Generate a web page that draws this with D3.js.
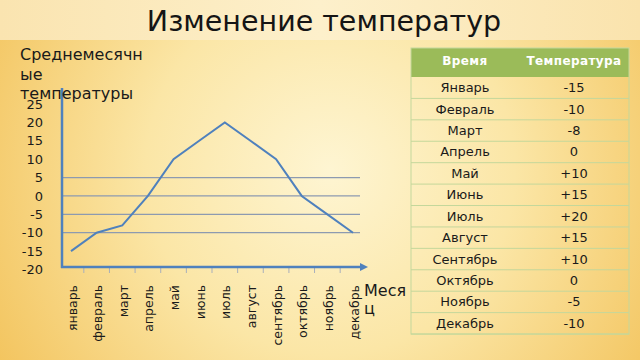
<!DOCTYPE html>
<html>
<head>
<meta charset="utf-8">
<script src="https://cdn.jsdelivr.net/npm/d3@7/dist/d3.min.js"></script>
<style>
  body { margin: 0; }
  svg { display: block; font-family: "DejaVu Sans", sans-serif; }
</style>
</head>
<body>
<div id="chart"></div>
<script>
var svgWidth = 640;
var svgHeight = 360;

// data
var months = ["январь", "февраль", "март", "апрель", "май", "июнь", "июль", "август", "сентябрь", "октябрь", "ноябрь", "декабрь"];
var temps = [-15, -10, -8, 0, 10, 15, 20, 15, 10, 0, -5, -10];
var tableMonths = ["Январь", "Февраль", "Март", "Апрель", "Май", "Июнь", "Июль", "Август", "Сентябрь", "Октябрь", "Ноябрь", "Декабрь"];
var tableTemps = ["-15", "-10", "-8", "0", "+10", "+15", "+20", "+15", "+10", "0", "-5", "-10"];
var yTicks = [25, 20, 15, 10, 5, 0, -5, -10, -15, -20];
var gridValues = [5, 0, -5, -10];

var svg = d3.select("#chart")
  .append("svg")
  .attr("width", svgWidth)
  .attr("height", svgHeight);

var defs = svg.append("defs");
var bg = defs.append("radialGradient")
  .attr("id", "bg")
  .attr("gradientUnits", "userSpaceOnUse")
  .attr("cx", 330).attr("cy", 170).attr("r", 410);
bg.append("stop").attr("offset", "0%").attr("stop-color", "#fef5d2");
bg.append("stop").attr("offset", "45%").attr("stop-color", "#fbe6a6");
bg.append("stop").attr("offset", "100%").attr("stop-color", "#f2c055");

var topBand = defs.append("linearGradient").attr("id", "topband");
topBand.append("stop").attr("offset", "0%").attr("stop-color", "#fae4b0");
topBand.append("stop").attr("offset", "50%").attr("stop-color", "#fdf0cb");
topBand.append("stop").attr("offset", "100%").attr("stop-color", "#fae3ad");

defs.append("marker")
  .attr("id", "arrow")
  .attr("viewBox", "0 0 10 10")
  .attr("refX", 5).attr("refY", 5)
  .attr("markerWidth", 3.2).attr("markerHeight", 3.2)
  .attr("orient", "auto")
  .append("path")
  .attr("d", "M0,0 L10,5 L0,10 Z")
  .attr("fill", "#4f81bd");

svg.append("rect").attr("width", svgWidth).attr("height", svgHeight).attr("fill", "url(#bg)");
svg.append("rect").attr("width", svgWidth).attr("height", 40).attr("fill", "url(#topband)");

// title
svg.append("text")
  .attr("x", 324).attr("y", 31)
  .attr("text-anchor", "middle")
  .style("font-size", "28.5px")
  .attr("fill", "#151515")
  .text("Изменение температур");

// scales
var xScale = d3.scalePoint()
  .domain(months)
  .range([71, 353]);

var yScale = d3.scaleLinear()
  .domain([-20, 25])
  .range([269.5, 104]);

var axisX = 62;
var baseY = yScale(-20) - 2.5;

// gridlines
svg.append("g")
  .selectAll("line")
  .data(gridValues)
  .enter()
  .append("line")
  .attr("x1", axisX).attr("x2", 360)
  .attr("y1", d => yScale(d)).attr("y2", d => yScale(d))
  .attr("stroke", "#8d9ab0")
  .attr("stroke-width", 1.3);

// y tick labels
svg.append("g")
  .selectAll("text")
  .data(yTicks)
  .enter()
  .append("text")
  .attr("x", 43)
  .attr("y", d => yScale(d))
  .attr("dy", "0.36em")
  .attr("text-anchor", "end")
  .style("font-size", "13px")
  .attr("fill", "#1a1a1a")
  .text(d => d);

// category ticks under x axis, between months
var step = xScale.step();
svg.append("g")
  .selectAll("line")
  .data(months.slice(1))
  .enter()
  .append("line")
  .attr("x1", d => xScale(d) - step / 2)
  .attr("x2", d => xScale(d) - step / 2)
  .attr("y1", baseY).attr("y2", baseY + 6)
  .attr("stroke", "#a9afbb")
  .attr("stroke-width", 1);

// data line
var line = d3.line()
  .x((d, i) => xScale(months[i]))
  .y(d => yScale(d));

svg.append("path")
  .datum(temps)
  .attr("d", line)
  .attr("fill", "none")
  .attr("stroke", "#4f81bd")
  .attr("stroke-width", 2);

// axes
svg.append("line")
  .attr("x1", axisX).attr("x2", axisX)
  .attr("y1", baseY + 1).attr("y2", 88)
  .attr("stroke", "#4f81bd")
  .attr("stroke-width", 2.5);

svg.append("line")
  .attr("x1", axisX - 1).attr("x2", 364)
  .attr("y1", baseY).attr("y2", baseY)
  .attr("stroke", "#4f81bd")
  .attr("stroke-width", 2.5)
  .attr("marker-end", "url(#arrow)");

// month labels
svg.append("g")
  .selectAll("text")
  .data(months)
  .enter()
  .append("text")
  .attr("transform", d => `translate(${xScale(d) + 1}, 285) rotate(-90)`)
  .attr("dy", "0.36em")
  .attr("text-anchor", "end")
  .style("font-size", "12.5px")
  .attr("fill", "#1a1a1a")
  .text(d => d);

// axis titles
var yTitle = svg.append("text")
  .style("font-size", "16px")
  .attr("fill", "#1a1a1a");
["Среднемесячн", "ые", "температуры"].forEach(function(t, i) {
  yTitle.append("tspan").attr("x", 20).attr("y", 60 + i * 19.5).text(t);
});

var xTitle = svg.append("text")
  .style("font-size", "16px")
  .attr("fill", "#1a1a1a");
["Меся", "ц"].forEach(function(t, i) {
  xTitle.append("tspan").attr("x", 364).attr("y", 296 + i * 18).text(t);
});

// table
var tLeft = 411, tRight = 629, tTop = 48, headH = 29, rowH = 21.42;
var col1 = 465, col2 = 574;
var table = svg.append("g");

table.append("rect")
  .attr("x", tLeft).attr("y", tTop)
  .attr("width", tRight - tLeft).attr("height", headH)
  .attr("fill", "#9bbb59");

table.append("rect")
  .attr("x", tLeft).attr("y", tTop)
  .attr("width", tRight - tLeft).attr("height", headH + rowH * tableMonths.length)
  .attr("fill", "none")
  .attr("stroke", "#c4d79b")
  .attr("stroke-width", 1);

table.selectAll("line.row")
  .data(tableMonths)
  .enter()
  .append("line")
  .attr("class", "row")
  .attr("x1", tLeft).attr("x2", tRight)
  .attr("y1", (d, i) => tTop + headH + rowH * (i + 1))
  .attr("y2", (d, i) => tTop + headH + rowH * (i + 1))
  .attr("stroke", "#c4d79b")
  .attr("stroke-width", 1);

table.append("text")
  .attr("x", col1).attr("y", tTop + 17)
  .attr("text-anchor", "middle")
  .style("font-size", "12px").style("font-weight", "bold").style("letter-spacing", "0.4px")
  .attr("fill", "#ffffff")
  .text("Время");

table.append("text")
  .attr("x", col2).attr("y", tTop + 17)
  .attr("text-anchor", "middle")
  .style("font-size", "12px").style("font-weight", "bold").style("letter-spacing", "0.4px")
  .attr("fill", "#ffffff")
  .text("Температура");

table.selectAll("text.m")
  .data(tableMonths)
  .enter()
  .append("text")
  .attr("class", "m")
  .attr("x", col1)
  .attr("y", (d, i) => tTop + headH + rowH * i + rowH / 2 + 4.5)
  .attr("text-anchor", "middle")
  .style("font-size", "13px")
  .attr("fill", "#1a1a1a")
  .text(d => d);

table.selectAll("text.v")
  .data(tableTemps)
  .enter()
  .append("text")
  .attr("class", "v")
  .attr("x", col2)
  .attr("y", (d, i) => tTop + headH + rowH * i + rowH / 2 + 4.5)
  .attr("text-anchor", "middle")
  .style("font-size", "13px")
  .attr("fill", "#1a1a1a")
  .text(d => d);
</script>
</body>
</html>
